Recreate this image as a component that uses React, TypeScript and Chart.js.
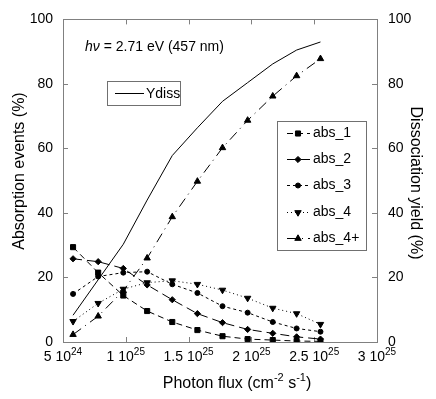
import React, { useEffect, useRef } from 'react';
import { Chart, registerables } from 'chart.js';
import { drawPoint } from 'chart.js/helpers';

Chart.register(...registerables);

// ---- data ----
const photonFlux = [5.8e24, 7.8e24, 9.8e24, 11.7e24, 13.7e24, 15.7e24, 17.7e24, 19.7e24, 21.7e24, 23.6e24, 25.5e24];
const abs1 = [29.4, 21.5, 14.4, 9.6, 6.2, 3.7, 1.8, 0.9, 0.6, 0.3, 0.2];
const abs2 = [25.8, 24.9, 22.8, 17.7, 13.1, 8.8, 6.0, 3.9, 2.7, 1.6, 0.9];
const abs3 = [14.9, 20.3, 21.5, 21.8, 17.9, 15.2, 11.1, 9.1, 6.2, 4.2, 3.2];
const abs4 = [6.4, 12.0, 16.4, 18.4, 19.0, 17.9, 16.1, 13.6, 10.5, 8.8, 5.5];
const abs4plus = [2.3, 8.0, 15.9, 26.0, 38.8, 49.8, 60.2, 68.7, 76.2, 82.5, 87.8];
const yDiss = [8.3, 19.3, 30.3, 44.0, 57.8, 66.4, 74.6, 80.4, 86.2, 90.5, 93.0];

const xTickValues = [5e24, 1e25, 1.5e25, 2e25, 2.5e25, 3e25];
const xTickMantissa = ['5', '1', '1.5', '2', '2.5', '3'];
const xTickExponent = ['24', '25', '25', '25', '25', '25'];
const yTickValues = [0, 20, 40, 60, 80, 100];

const seriesLabels = ['abs_1', 'abs_2', 'abs_3', 'abs_4', 'abs_4+'];
const seriesValues = [abs1, abs2, abs3, abs4, abs4plus];

// ---- styles ----
const FONT = '"Liberation Sans", Arial, Helvetica, sans-serif';
const AXIS_COLOR = '#808080';
const seriesStyles = [
  { dash: [6, 4], pointStyle: 'rect', rotation: 0, radius: 3.6 },
  { dash: [9, 5], pointStyle: 'rectRot', rotation: 0, radius: 3.1 },
  { dash: [3, 3], pointStyle: 'circle', rotation: 0, radius: 2.5 },
  { dash: [1, 3], pointStyle: 'triangle', rotation: 180, radius: 3.7 },
  { dash: [10, 5, 1, 5], pointStyle: 'triangle', rotation: 0, radius: 3.7 },
];

function drawSupText(ctx: CanvasRenderingContext2D, parts: { t: string; sup?: boolean }[], cx: number, baseline: number, size: number, supSize: number, supRise: number) {
  let total = 0;
  for (const p of parts) {
    ctx.font = `${p.sup ? supSize : size}px ${FONT}`;
    total += ctx.measureText(p.t).width;
  }
  let x = cx - total / 2;
  ctx.textAlign = 'left';
  ctx.textBaseline = 'alphabetic';
  for (const p of parts) {
    ctx.font = `${p.sup ? supSize : size}px ${FONT}`;
    ctx.fillText(p.t, x, p.sup ? baseline - supRise : baseline);
    x += ctx.measureText(p.t).width;
  }
}

const decorPlugin = {
  id: 'decor',
  beforeDatasetsDraw(chart: any) {
    const { ctx, chartArea } = chart;
    const { left, right, top, bottom } = chartArea;
    const xs = chart.scales.x;
    const ys = chart.scales.y;
    ctx.save();
    ctx.strokeStyle = AXIS_COLOR;
    ctx.lineWidth = 1;
    ctx.setLineDash([]);
    ctx.strokeRect(Math.round(left) + 0.5, Math.round(top) + 0.5, Math.round(right - left), Math.round(bottom - top));
    ctx.beginPath();
    const tl = 5;
    xTickValues.forEach((v) => {
      const px = Math.round(xs.getPixelForValue(v)) + 0.5;
      ctx.moveTo(px, bottom);
      ctx.lineTo(px, bottom - tl);
      ctx.moveTo(px, top);
      ctx.lineTo(px, top + tl);
    });
    yTickValues.forEach((v) => {
      const py = Math.round(ys.getPixelForValue(v)) + 0.5;
      ctx.moveTo(left, py);
      ctx.lineTo(left + tl, py);
      ctx.moveTo(right, py);
      ctx.lineTo(right - tl, py);
    });
    ctx.stroke();

    // x tick labels with superscripts
    ctx.fillStyle = '#000';
    xTickValues.forEach((v, i) => {
      const px = xs.getPixelForValue(v);
      drawSupText(ctx, [{ t: xTickMantissa[i] + ' 10' }, { t: xTickExponent[i], sup: true }], px, bottom + 19, 14, 10, 6);
    });

    // x title
    drawSupText(
      ctx,
      [{ t: 'Photon flux (cm' }, { t: '-2', sup: true }, { t: ' s' }, { t: '-1', sup: true }, { t: ')' }],
      237,
      388,
      16,
      11,
      7
    );

    // y titles
    ctx.font = `16px ${FONT}`;
    ctx.textAlign = 'center';
    ctx.textBaseline = 'middle';
    ctx.save();
    ctx.translate(20, 171);
    ctx.rotate(-Math.PI / 2);
    ctx.fillText('Absorption events (%)', 0, 0);
    ctx.restore();
    ctx.save();
    ctx.translate(415, 183);
    ctx.rotate(Math.PI / 2);
    ctx.fillText('Dissociation yield (%)', 0, 0);
    ctx.restore();

    // annotation
    ctx.textAlign = 'left';
    ctx.textBaseline = 'alphabetic';
    ctx.font = `italic 14px ${FONT}`;
    ctx.fillText('hν', 85, 51);
    const w = ctx.measureText('hν').width;
    ctx.font = `14px ${FONT}`;
    ctx.fillText(' = 2.71 eV (457 nm)', 85 + w, 51);
    ctx.restore();
  },
  afterDatasetsDraw(chart: any) {
    const { ctx } = chart;
    ctx.save();
    // Ydiss legend
    ctx.fillStyle = '#fff';
    ctx.fillRect(107, 81, 74, 24);
    ctx.strokeStyle = '#707070';
    ctx.lineWidth = 1;
    ctx.setLineDash([]);
    ctx.strokeRect(107.5, 81.5, 73, 24);
    ctx.strokeStyle = '#000';
    ctx.beginPath();
    ctx.moveTo(115, 93.5);
    ctx.lineTo(144, 93.5);
    ctx.stroke();
    ctx.fillStyle = '#000';
    ctx.font = `14px ${FONT}`;
    ctx.textAlign = 'left';
    ctx.textBaseline = 'middle';
    ctx.fillText('Ydiss', 146, 94);

    // main legend
    ctx.fillStyle = '#fff';
    ctx.fillRect(277, 121, 89, 129);
    ctx.strokeStyle = '#707070';
    ctx.strokeRect(277.5, 121.5, 89, 129);
    seriesLabels.forEach((lab, i) => {
      const st = seriesStyles[i];
      const y = Math.round(133 + i * 26.2) + 0.5;
      ctx.strokeStyle = '#000';
      ctx.fillStyle = '#000';
      ctx.lineWidth = 1;
      ctx.setLineDash(st.dash);
      ctx.beginPath();
      ctx.moveTo(287, y);
      ctx.lineTo(310, y);
      ctx.stroke();
      ctx.setLineDash([]);
      drawPoint(ctx, { pointStyle: st.pointStyle, rotation: st.rotation, radius: st.radius, borderWidth: 1 } as any, 298, y);
      ctx.fillStyle = '#000';
      ctx.font = `14px ${FONT}`;
      ctx.textAlign = 'left';
      ctx.textBaseline = 'middle';
      ctx.fillText(lab, 313, y);
    });
    ctx.restore();
  },
};

export default function App() {
  const canvasRef = useRef<HTMLCanvasElement | null>(null);

  useEffect(() => {
    document.body.style.margin = '0';
    const canvas = canvasRef.current;
    if (!canvas) return;

    const datasets: any[] = seriesLabels.map((lab, i) => ({
      label: lab,
      data: photonFlux.map((x, j) => ({ x, y: seriesValues[i][j] })),
      yAxisID: 'y',
      borderColor: '#000',
      backgroundColor: '#000',
      borderWidth: 1,
      borderDash: seriesStyles[i].dash,
      pointStyle: seriesStyles[i].pointStyle,
      pointRotation: seriesStyles[i].rotation,
      pointRadius: seriesStyles[i].radius,
      pointBorderWidth: 1,
      pointBorderColor: '#000',
      pointBackgroundColor: '#000',
      tension: 0,
      fill: false,
    }));
    datasets.push({
      label: 'Ydiss',
      data: photonFlux.map((x, j) => ({ x, y: yDiss[j] })),
      yAxisID: 'y2',
      borderColor: '#000',
      borderWidth: 1,
      pointRadius: 0,
      tension: 0,
      fill: false,
    });

    const tickFont = { family: FONT, size: 14 };

    const chart = new Chart(canvas, {
      type: 'line',
      data: { datasets },
      plugins: [decorPlugin as any],
      options: {
        animation: false,
        responsive: false,
        devicePixelRatio: 1,
        layout: { padding: { top: 15, left: 0, right: 0, bottom: 0 } },
        plugins: { legend: { display: false }, tooltip: { enabled: false } },
        scales: {
          x: {
            type: 'linear',
            min: 5e24,
            max: 3e25,
            grid: { display: false, drawTicks: false },
            border: { display: false },
            ticks: { display: false },
            afterBuildTicks: (s: any) => {
              s.ticks = xTickValues.map((v) => ({ value: v }));
            },
            afterFit: (s: any) => {
              s.height = 57;
            },
          },
          y: {
            position: 'left',
            min: 0,
            max: 100,
            grid: { display: false, drawTicks: false },
            border: { display: false },
            ticks: { stepSize: 20, padding: 10, color: '#000', font: tickFont },
            afterFit: (s: any) => {
              s.width = 63;
            },
          },
          y2: {
            position: 'right',
            min: 0,
            max: 100,
            grid: { display: false, drawTicks: false },
            border: { display: false },
            ticks: { stepSize: 20, padding: 11, color: '#000', font: tickFont },
            afterFit: (s: any) => {
              s.width = 59;
            },
          },
        },
      } as any,
    });
    return () => chart.destroy();
  }, []);

  return (
    <div style={{ width: 436, height: 399, background: '#fff' }}>
      <canvas ref={canvasRef} width={436} height={399} />
    </div>
  );
}
